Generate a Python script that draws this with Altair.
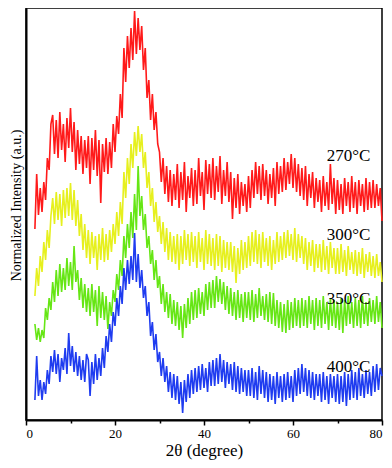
import altair as alt
import pandas as pd

# 2-theta sampling grid (degrees)
X_START = 2.0
X_STEP = 0.4
N_POINTS = 196
TWO_THETA = [round(X_START + X_STEP * i, 1) for i in range(N_POINTS)]

# Normalized intensity (a.u., stacked offsets as drawn)
INT_270 = [
    191, 246, 205, 232, 208, 238, 220, 262, 250, 296,
    305, 266, 300, 262, 308, 270, 296, 258, 302, 272,
    312, 268, 298, 250, 290, 256, 284, 246, 280, 252,
    284, 236, 282, 250, 290, 244, 280, 217, 276, 248,
    282, 246, 278, 252, 296, 268, 304, 286, 326, 302,
    372, 338, 384, 352, 392, 360, 409, 366, 402, 370,
    394, 350, 372, 322, 340, 300, 326, 290, 308, 276,
    268, 238, 262, 226, 254, 218, 250, 214, 246, 220,
    256, 212, 248, 220, 258, 208, 244, 222, 252, 214,
    250, 216, 262, 224, 248, 210, 260, 226, 256, 222,
    262, 220, 254, 228, 264, 216, 250, 224, 258, 218,
    248, 201, 242, 212, 246, 206, 238, 214, 236, 208,
    244, 212, 250, 222, 258, 226, 254, 220, 256, 224,
    250, 216, 246, 222, 252, 214, 258, 226, 254, 228,
    262, 230, 258, 236, 266, 232, 262, 228, 256, 224,
    252, 220, 254, 214, 246, 222, 248, 212, 242, 218,
    240, 208, 244, 214, 238, 210, 256, 216, 242, 206,
    240, 210, 236, 206, 242, 214, 238, 208, 244, 212,
    238, 206, 240, 214, 236, 208, 242, 210, 238, 212,
    240, 212, 236, 214, 232, 199,
]
INT_300 = [
    124, 152, 134, 164, 148, 178, 160, 190, 172, 204,
    222, 196, 228, 200, 226, 194, 230, 202, 232, 204,
    237, 200, 230, 194, 220, 184, 206, 170, 196, 162,
    190, 156, 188, 162, 184, 150, 186, 160, 192, 158,
    186, 160, 190, 168, 196, 176, 208, 184, 218, 196,
    248, 222, 262, 236, 276, 252, 288, 264, 294, 268,
    286, 252, 268, 232, 248, 214, 232, 198, 218, 188,
    204, 176, 198, 168, 192, 160, 188, 158, 184, 156,
    186, 150, 184, 156, 190, 160, 186, 154, 188, 158,
    184, 152, 188, 158, 182, 150, 190, 156, 186, 154,
    182, 150, 186, 154, 184, 148, 180, 152, 178, 150,
    178, 148, 174, 137, 172, 146, 180, 150, 178, 152,
    184, 154, 188, 158, 190, 156, 186, 152, 188, 158,
    182, 154, 184, 150, 180, 156, 188, 158, 184, 160,
    188, 162, 190, 164, 186, 160, 192, 158, 186, 162,
    184, 156, 182, 150, 178, 154, 180, 148, 176, 152,
    176, 148, 180, 150, 174, 146, 178, 152, 172, 146,
    172, 146, 176, 148, 170, 144, 174, 150, 168, 146,
    170, 144, 168, 146, 172, 142, 166, 148, 168, 144,
    164, 142, 166, 144, 158, 138,
]
INT_350 = [
    96, 80, 92, 78, 90, 82, 112, 100, 122, 110,
    138, 118, 150, 124, 156, 128, 152, 130, 162, 134,
    158, 130, 174, 138, 150, 120, 142, 112, 136, 108,
    132, 104, 136, 108, 130, 94, 134, 102, 128, 100,
    124, 91, 118, 104, 130, 118, 146, 130, 160, 144,
    184, 162, 196, 172, 208, 182, 226, 190, 254, 204,
    224, 190, 206, 172, 184, 156, 170, 140, 160, 132,
    144, 116, 136, 108, 128, 102, 126, 96, 120, 94,
    118, 90, 114, 82, 116, 92, 122, 96, 128, 100,
    130, 102, 132, 106, 128, 104, 136, 110, 138, 112,
    140, 112, 144, 118, 141, 116, 138, 110, 134, 106,
    132, 104, 128, 100, 130, 102, 126, 98, 128, 102,
    128, 100, 130, 98, 126, 102, 132, 104, 124, 100,
    126, 98, 128, 96, 127, 94, 120, 92, 118, 88,
    116, 87, 120, 90, 118, 92, 122, 94, 120, 92,
    122, 94, 120, 92, 124, 96, 120, 90, 122, 94,
    120, 92, 124, 96, 118, 90, 122, 94, 120, 92,
    118, 90, 122, 87, 120, 94, 124, 96, 118, 92,
    122, 94, 120, 92, 124, 96, 118, 94, 122, 98,
    120, 96, 124, 98, 118, 92,
]
INT_400 = [
    20, 64, 24, 40, 20, 38, 26, 50, 36, 64,
    48, 70, 46, 66, 38, 62, 50, 72, 46, 87,
    54, 74, 48, 68, 44, 64, 40, 60, 38, 66,
    60, 24, 58, 36, 66, 40, 62, 44, 72, 52,
    84, 68, 96, 78, 108, 94, 122, 104, 134, 116,
    152, 130, 160, 136, 164, 140, 187, 138, 166, 132,
    150, 122, 134, 104, 118, 84, 98, 70, 86, 58,
    68, 44, 62, 38, 54, 28, 48, 22, 46, 20,
    44, 16, 38, 7, 40, 18, 46, 22, 50, 26,
    52, 28, 54, 30, 56, 32, 52, 28, 58, 34,
    60, 34, 62, 36, 66, 38, 60, 32, 58, 36,
    56, 30, 58, 28, 54, 26, 52, 28, 50, 24,
    50, 24, 52, 22, 48, 20, 54, 26, 50, 22,
    48, 18, 46, 20, 44, 16, 48, 22, 44, 18,
    46, 20, 48, 22, 44, 18, 50, 24, 52, 26,
    56, 28, 52, 24, 50, 22, 48, 20, 46, 24,
    46, 18, 48, 20, 44, 16, 46, 22, 44, 18,
    46, 16, 44, 18, 48, 14, 46, 20, 50, 22,
    48, 20, 52, 24, 46, 22, 50, 26, 48, 24,
    54, 28, 56, 30, 52, 44,
]

SERIES = ["270°C", "300°C", "350°C", "400°C"]
VALUES = [INT_270, INT_300, INT_350, INT_400]
COLORS = ["#ff1a1a", "#e6f01e", "#66e614", "#1f3cf0"]

# curve labels (data coordinates)
LABEL_X = [67.6, 67.6, 67.6, 67.6]
LABEL_Y = [264, 185, 121, 53]

rows = []
for name, vals in zip(SERIES, VALUES):
    for x, v in zip(TWO_THETA, vals):
        rows.append({"two_theta": x, "intensity": v, "sample": name})
df = pd.DataFrame(rows)
labels_df = pd.DataFrame({"x": LABEL_X, "y": LABEL_Y, "text": SERIES})

FONT = "Liberation Serif"

x_scale = alt.Scale(domain=[0, 80], nice=False, zero=False)
y_scale = alt.Scale(domain=[0, 412], nice=False, zero=False)

x_axis = alt.Axis(
    values=[0, 10, 20, 30, 40, 50, 60, 70, 80],
    labelExpr="datum.value % 20 === 0 ? datum.label : ''",
    grid=False,
    title="2θ (degree)",
    titleFont=FONT, titleFontSize=17, titleFontWeight="normal", titleColor="black",
    titlePadding=2,
    labelFont=FONT, labelFontSize=13, labelColor="black", labelPadding=2,
    domainColor="black", domainWidth=2,
    tickColor="black", tickWidth=1.5,
    tickSize={"condition": {"test": "datum.value % 20 === 0", "value": 5}, "value": 3},
)
y_axis = alt.Axis(
    labels=False, ticks=False, grid=False,
    title="Normalized Intensity (a.u.)",
    titleFont=FONT, titleFontSize=14, titleFontWeight="normal", titleColor="black",
    titlePadding=3, titleY=197,
    domainColor="black", domainWidth=2,
)

layers = []
for name, color in zip(SERIES, COLORS):
    layers.append(
        alt.Chart(df)
        .transform_filter(alt.datum.sample == name)
        .mark_line(color=color, strokeWidth=1.6)
        .encode(
            x=alt.X("two_theta:Q", scale=x_scale, axis=x_axis),
            y=alt.Y("intensity:Q", scale=y_scale, axis=y_axis),
        )
    )

text = alt.Chart(labels_df).mark_text(
    align="left", baseline="middle", font=FONT, fontSize=17, color="black"
).encode(
    x=alt.X("x:Q", scale=x_scale),
    y=alt.Y("y:Q", scale=y_scale),
    text="text:N",
)

chart = (
    alt.layer(*layers, text)
    .properties(
        width=356, height=412,
        autosize=alt.AutoSizeParams(type="none"),
        padding={"left": 18, "top": 0, "right": 2, "bottom": 40},
        background="white",
    )
    .configure_view(stroke="black", strokeWidth=1.5)
)

chart.save("out.html", embed_options={"renderer": "svg", "actions": False})
